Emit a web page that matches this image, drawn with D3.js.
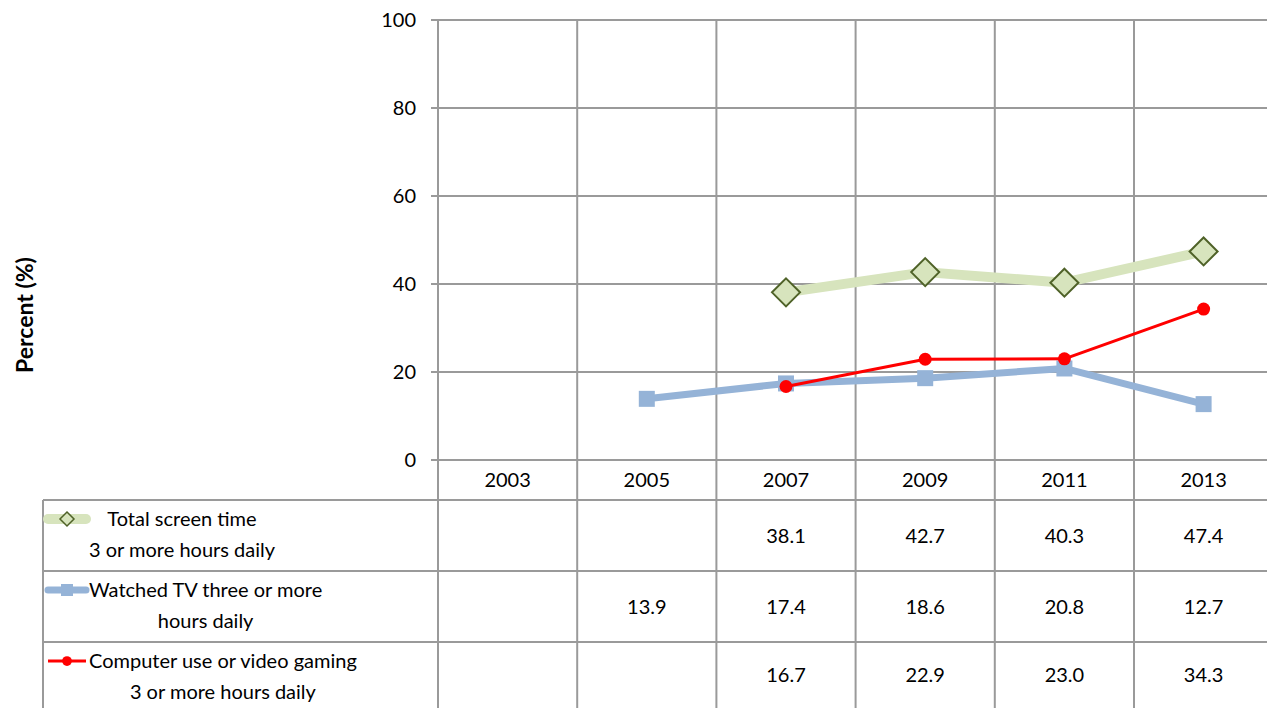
<!DOCTYPE html>
<html>
<head>
<meta charset="utf-8">
<script src="https://cdn.jsdelivr.net/npm/d3@7"></script>
<style>
  body { margin: 0; background: #fff; }
  svg { display: block; font-family: Lato, "Open Sans", sans-serif; }
</style>
</head>
<body>
<svg id="chart" width="1267" height="708"></svg>
<script>
const years = ["2003", "2005", "2007", "2009", "2011", "2013"];
const totalScreen = [null, null, 38.1, 42.7, 40.3, 47.4];
const watchedTV = [null, 13.9, 17.4, 18.6, 20.8, 12.7];
const computerUse = [null, null, 16.7, 22.9, 23.0, 34.3];
const yTicks = [0, 20, 40, 60, 80, 100];

const series = [
  { name: ["Total screen time", "3 or more hours daily"], values: totalScreen,
    color: "#d7e4bd", width: 10, marker: "diamond" },
  { name: ["Watched TV three or more", "hours daily"], values: watchedTV,
    color: "#95b3d7", width: 7, marker: "square" },
  { name: ["Computer use or video gaming", "3 or more hours daily"], values: computerUse,
    color: "#ff0000", width: 3, marker: "circle" }
];

const svg = d3.select("#chart");
const gridColor = "#9a9a9a";
const fontSize = 20;

// plot area
const plotLeft = 438, plotTop = 20, plotBottom = 460;
const plotRight = plotLeft + 6 * 139.2;
const tableLeft = 43;
const rowEdges = [460, 500, 571, 642, 712];

const x = d3.scaleBand().domain(years).range([plotLeft, plotRight]);
const y = d3.scaleLinear().domain([0, 100]).range([plotBottom, plotTop]);

// horizontal gridlines + ticks
svg.append("g")
  .selectAll("line")
  .data(yTicks)
  .join("line")
  .attr("x1", plotLeft - 7)
  .attr("x2", plotRight)
  .attr("y1", d => y(d))
  .attr("y2", d => y(d))
  .attr("stroke", gridColor)
  .attr("stroke-width", 2);

svg.append("g")
  .selectAll("text")
  .data(yTicks)
  .join("text")
  .attr("x", plotLeft - 22)
  .attr("y", d => y(d))
  .attr("dy", "0.35em")
  .attr("text-anchor", "end")
  .attr("font-size", fontSize)
  .attr("fill", "#000")
  .text(d => d);

// vertical lines: category boundaries run through plot and table
const edges = years.map(d => x(d)).concat([plotRight]);
svg.append("g")
  .selectAll("line")
  .data(edges)
  .join("line")
  .attr("x1", d => d)
  .attr("x2", d => d)
  .attr("y1", plotTop)
  .attr("y2", 708)
  .attr("stroke", gridColor)
  .attr("stroke-width", 2);

// table row lines
svg.append("g")
  .selectAll("line")
  .data(rowEdges.slice(1))
  .join("line")
  .attr("x1", tableLeft)
  .attr("x2", plotRight)
  .attr("y1", d => d)
  .attr("y2", d => d)
  .attr("stroke", gridColor)
  .attr("stroke-width", 2);

svg.append("line")
  .attr("x1", tableLeft).attr("x2", tableLeft)
  .attr("y1", rowEdges[1]).attr("y2", 708)
  .attr("stroke", gridColor).attr("stroke-width", 2);

// year header
svg.append("g")
  .selectAll("text")
  .data(years)
  .join("text")
  .attr("x", d => x(d) + x.bandwidth() / 2)
  .attr("y", (rowEdges[0] + rowEdges[1]) / 2)
  .attr("dy", "0.35em")
  .attr("text-anchor", "middle")
  .attr("font-size", fontSize)
  .text(d => d);

// y title
svg.append("text")
  .attr("transform", "translate(33,315) rotate(-90)")
  .attr("text-anchor", "middle")
  .attr("font-size", 23)
  .attr("font-weight", "bold")
  .text("Percent (%)");

function drawMarker(g, s, cx, cy, scale) {
  if (s.marker === "diamond") {
    const r = 14 * scale;
    g.append("path")
      .attr("d", `M${cx},${cy - r}L${cx + r},${cy}L${cx},${cy + r}L${cx - r},${cy}Z`)
      .attr("fill", "#d7e4bd")
      .attr("stroke", "#4f6228")
      .attr("stroke-width", 2 * Math.max(scale, 0.75));
  } else if (s.marker === "square") {
    const h = 8 * scale;
    g.append("rect")
      .attr("x", cx - h).attr("y", cy - h)
      .attr("width", 2 * h).attr("height", 2 * h)
      .attr("fill", s.color);
  } else {
    g.append("circle")
      .attr("cx", cx).attr("cy", cy)
      .attr("r", 6.5 * scale)
      .attr("fill", s.color);
  }
}

// lines and markers
const line = d3.line()
  .defined(d => d.v != null)
  .x(d => x(d.year) + x.bandwidth() / 2)
  .y(d => y(d.v));

series.forEach(s => {
  const pts = years.map((year, i) => ({ year, v: s.values[i] }));
  svg.append("path")
    .datum(pts)
    .attr("d", line)
    .attr("fill", "none")
    .attr("stroke", s.color)
    .attr("stroke-width", s.width)
    .attr("stroke-linejoin", "round");
  const g = svg.append("g");
  pts.filter(d => d.v != null).forEach(d => {
    drawMarker(g, s, x(d.year) + x.bandwidth() / 2, y(d.v), 1);
  });
});

// table rows: legend key, label, values
series.forEach((s, i) => {
  const y0 = rowEdges[i + 1], y1 = rowEdges[i + 2];
  const rowMid = (y0 + Math.min(y1, 708)) / 2;
  const keyY = y0 + 19;
  const g = svg.append("g");

  g.append("line")
    .attr("x1", 48).attr("x2", 86)
    .attr("y1", keyY).attr("y2", keyY)
    .attr("stroke", s.color)
    .attr("stroke-width", s.width)
    .attr("stroke-linecap", s.marker === "circle" ? "butt" : "round");
  drawMarker(g, s, 67, keyY, s.marker === "diamond" ? 0.5 : 0.75);

  const label = g.append("text")
    .attr("font-size", fontSize)
    .attr("text-anchor", "middle");
  const lines = s.name.map((t, j) =>
    label.append("tspan").attr("y", y0 + 26 + j * 31).text(t));
  const maxW = d3.max(lines, t => t.node().getComputedTextLength());
  lines.forEach(t => t.attr("x", 89 + maxW / 2));

  g.selectAll("text.val")
    .data(years.map((year, k) => ({ year, v: s.values[k] })).filter(d => d.v != null))
    .join("text")
    .attr("class", "val")
    .attr("x", d => x(d.year) + x.bandwidth() / 2)
    .attr("y", rowMid)
    .attr("dy", "0.35em")
    .attr("text-anchor", "middle")
    .attr("font-size", fontSize)
    .text(d => d.v.toFixed(1));
});
</script>
</body>
</html>
